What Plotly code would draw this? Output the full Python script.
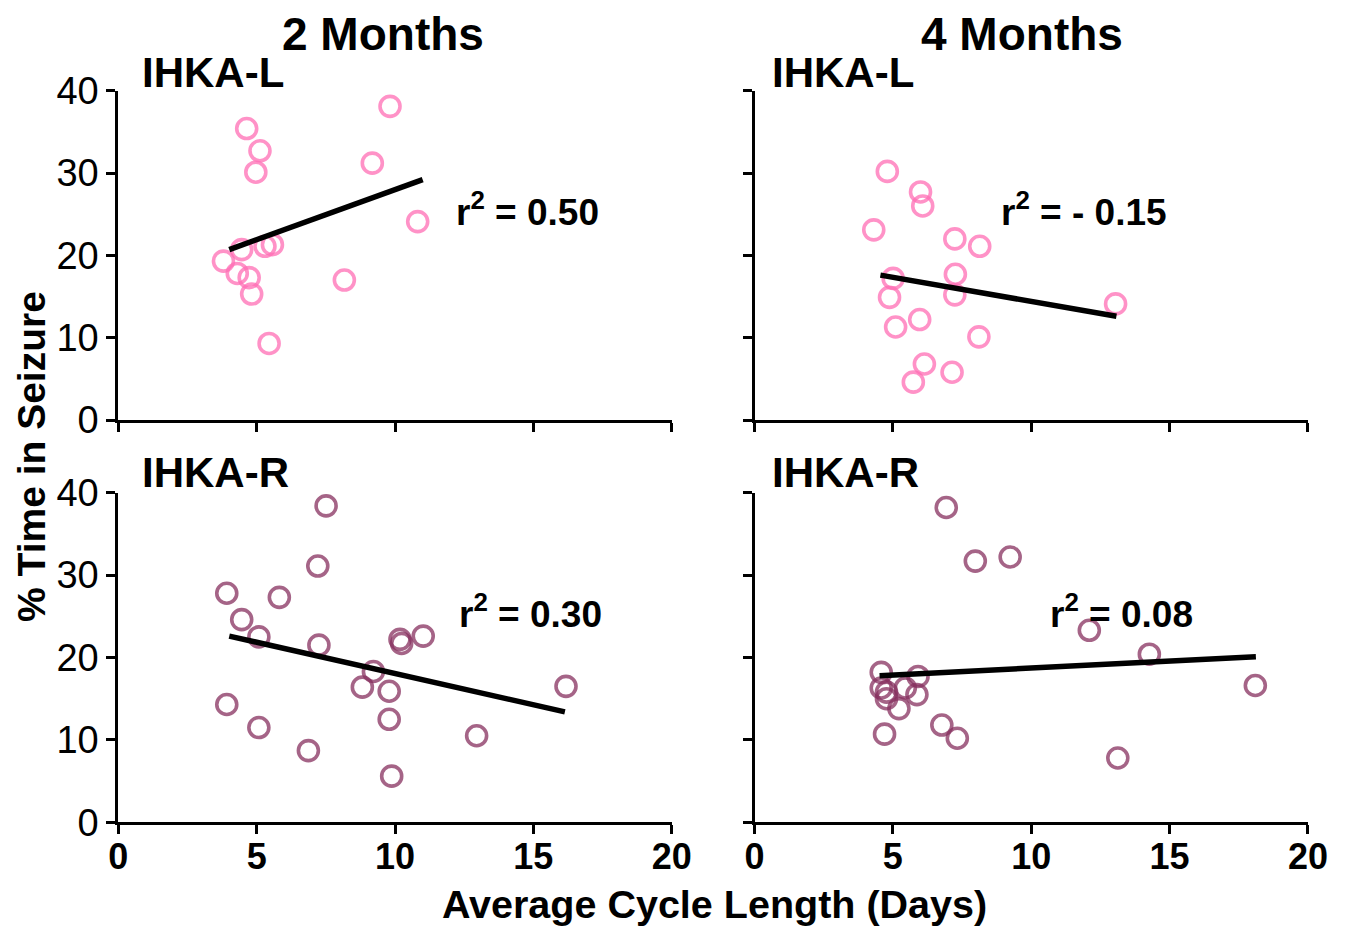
import plotly.graph_objects as go

# ---- data ----
tl_x = [4.64, 5.12, 4.97, 9.82, 9.18, 10.82, 4.46, 5.30, 5.57, 3.80, 4.30, 4.73, 4.82, 8.17, 5.45]
tl_y = [35.4, 32.7, 30.1, 38.1, 31.2, 24.1, 20.7, 21.1, 21.3, 19.3, 17.8, 17.3, 15.3, 17.0, 9.3]
tl_fit_x = [4.01, 11.0]
tl_fit_y = [20.7, 29.2]

tr_x = [4.80, 6.00, 6.08, 4.31, 7.24, 8.14, 5.01, 7.26, 4.88, 7.24, 5.10, 5.97, 8.11, 6.14, 5.74, 7.14, 13.05]
tr_y = [30.2, 27.7, 26.0, 23.1, 22.0, 21.1, 17.2, 17.7, 14.9, 15.2, 11.3, 12.2, 10.1, 6.8, 4.6, 5.8, 14.1]
tr_fit_x = [4.55, 13.08]
tr_fit_y = [17.6, 12.6]

bl_x = [7.51, 7.21, 3.92, 5.82, 4.46, 5.08, 7.25, 10.18, 10.24, 11.02, 9.22, 8.82, 9.79, 9.79, 3.92, 5.08, 6.87, 9.88, 12.95, 16.18]
bl_y = [38.4, 31.1, 27.8, 27.3, 24.6, 22.5, 21.5, 22.2, 21.7, 22.6, 18.3, 16.4, 15.9, 12.5, 14.3, 11.5, 8.7, 5.6, 10.5, 16.5]
bl_fit_x = [4.01, 16.14]
bl_fit_y = [22.6, 13.4]

br_x = [6.93, 7.98, 9.24, 4.58, 5.91, 4.58, 4.77, 4.77, 5.45, 5.87, 5.22, 4.70, 6.77, 7.33, 12.10, 14.27, 18.10, 13.13]
br_y = [38.2, 31.7, 32.2, 18.2, 17.7, 16.3, 15.8, 15.0, 16.3, 15.5, 13.8, 10.7, 11.8, 10.2, 23.3, 20.4, 16.6, 7.8]
br_fit_x = [4.52, 18.12]
br_fit_y = [17.8, 20.1]

col_titles = ["2 Months", "4 Months"]
row_labels = ["IHKA-L", "IHKA-R"]
r2_labels = ["r<sup>2</sup> = 0.50", "r<sup>2</sup> = - 0.15", "r<sup>2</sup> = 0.30", "r<sup>2</sup> = 0.08"]
x_ticks = [0, 5, 10, 15, 20]
y_ticks = [0, 10, 20, 30, 40]
x_title = "Average Cycle Length (Days)"
y_title = "% Time in Seizure"

PINK = "#FF6EB4"
MAUVE = "#87305F"
FONT = "Liberation Sans, Arial, sans-serif"
NARROW = "Liberation Sans Narrow, Arial Narrow, Liberation Sans, Arial, sans-serif"

W, H = 1350, 930
OFF = 8  # page body margin offset


def px_x(p):
    return (p - OFF) / W


def px_y(p):
    return 1 - (p - OFF) / H


fig = go.Figure()

panels = [
    ("x", "y", tl_x, tl_y, tl_fit_x, tl_fit_y, PINK),
    ("x2", "y2", tr_x, tr_y, tr_fit_x, tr_fit_y, PINK),
    ("x3", "y3", bl_x, bl_y, bl_fit_x, bl_fit_y, MAUVE),
    ("x4", "y4", br_x, br_y, br_fit_x, br_fit_y, MAUVE),
]
for xa, ya, px, py, fx, fy, c in panels:
    fig.add_trace(go.Scatter(
        x=px, y=py, xaxis=xa, yaxis=ya, mode="markers",
        marker=dict(symbol="circle-open", size=20, color=c, opacity=0.75,
                    line=dict(width=3.6, color=c)),
        showlegend=False, cliponaxis=False))
    fig.add_trace(go.Scatter(
        x=fx, y=fy, xaxis=xa, yaxis=ya, mode="lines",
        line=dict(color="black", width=5.5), showlegend=False, cliponaxis=False))

xdom_l = [px_x(118.3), px_x(671.7)]
xdom_r = [px_x(754.5), px_x(1307.9)]
ydom_t = [px_y(420), px_y(90.7)]
ydom_b = [px_y(822.3), px_y(492.7)]


def xaxis(dom, anchor, labels):
    return dict(domain=dom, anchor=anchor, range=[0, 20], tickvals=x_ticks,
                showticklabels=labels, ticks="outside", ticklen=9, tickwidth=3,
                tickcolor="black", showline=True, linewidth=3, linecolor="black",
                showgrid=False, zeroline=False, fixedrange=True, automargin=False,
                tickfont=dict(family=NARROW, size=36, color="black", weight="bold"),
                ticklabelstandoff=-9)


def yaxis(dom, anchor, labels):
    return dict(domain=dom, anchor=anchor, range=[0, 40], tickvals=y_ticks,
                showticklabels=labels, ticks="outside", ticklen=9, tickwidth=3,
                tickcolor="black", showline=True, linewidth=3, linecolor="black",
                showgrid=False, zeroline=False, fixedrange=True, automargin=False,
                tickfont=dict(family=FONT, size=38, color="black"),
                ticklabelstandoff=0)


fig.update_layout(
    width=W, height=H, autosize=False,
    margin=dict(l=0, r=0, t=0, b=0, pad=0, autoexpand=False),
    paper_bgcolor="white", plot_bgcolor="white",
    font=dict(family=FONT, color="black"),
    showlegend=False,
    xaxis=xaxis(xdom_l, "y", False),
    yaxis=yaxis(ydom_t, "x", True),
    xaxis2=xaxis(xdom_r, "y2", False),
    yaxis2=yaxis(ydom_t, "x2", False),
    xaxis3=xaxis(xdom_l, "y3", True),
    yaxis3=yaxis(ydom_b, "x3", True),
    xaxis4=xaxis(xdom_r, "y4", True),
    yaxis4=yaxis(ydom_b, "x4", False),
)

ann = []
# column titles
for t, cx in zip(col_titles, [383, 1022]):
    ann.append(dict(text=t, x=px_x(cx), y=px_y(34), xref="paper", yref="paper",
                    xanchor="center", yanchor="middle", showarrow=False,
                    font=dict(size=46, weight="bold", family=FONT)))
# row labels
for lab, cy in zip(row_labels, [73, 472]):
    for lx in [140, 770]:
        ann.append(dict(text=lab, x=px_x(lx), y=px_y(cy), xref="paper", yref="paper",
                        xanchor="left", yanchor="middle", showarrow=False,
                        font=dict(size=42, weight="bold", family=FONT)))
# r^2 labels
for lab, (lx, cy) in zip(r2_labels, [(454, 210), (999, 210), (457, 611), (1048, 611)]):
    ann.append(dict(text=lab, x=px_x(lx), y=px_y(cy), xref="paper", yref="paper",
                    xanchor="left", yanchor="middle", showarrow=False,
                    font=dict(size=37, weight="bold", family=FONT)))
# axis titles
ann.append(dict(text=x_title, x=px_x(714.5), y=px_y(904), xref="paper", yref="paper",
                xanchor="center", yanchor="middle", showarrow=False,
                font=dict(size=39.5, weight="bold", family=FONT)))
ann.append(dict(text=y_title, x=px_x(31), y=px_y(457), xref="paper", yref="paper",
                xanchor="center", yanchor="middle", showarrow=False, textangle=-90,
                font=dict(size=39, weight="bold", family=FONT)))
fig.update_layout(annotations=ann)

fig.write_html("out.html")
